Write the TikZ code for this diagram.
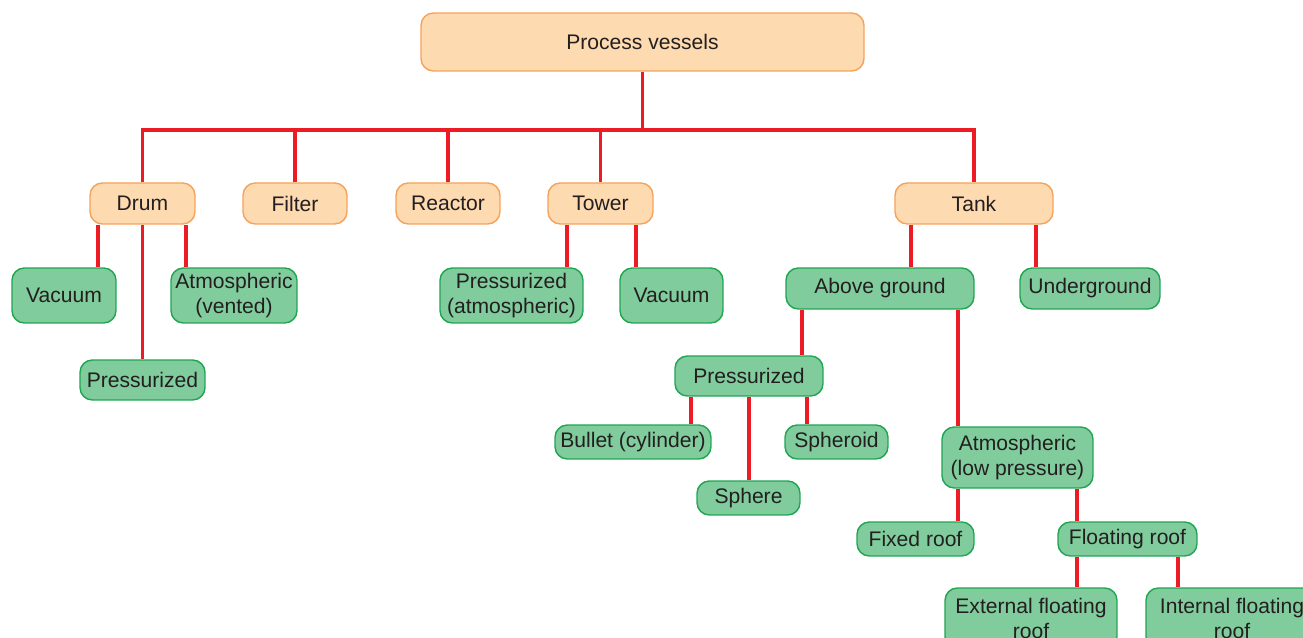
\documentclass[tikz,border=0pt]{standalone}
\usepackage{fontspec}
\setmainfont{Liberation Sans}

\definecolor{peach}{HTML}{FDDAB0}
\definecolor{peachline}{HTML}{F4A25A}
\definecolor{mint}{HTML}{80CC9C}
\definecolor{mintline}{HTML}{1EA552}
\definecolor{linkred}{HTML}{ED1C24}
\definecolor{ink}{HTML}{231F20}

\tikzset{
	vessel/.style={draw=peachline, fill=peach, rounded corners=7pt,
		line width=0.8pt, text=ink, inner sep=0pt, align=center,
		minimum height=0.82cm, font=\fontsize{12}{14}\selectfont},
	kind/.style={draw=mintline, fill=mint, rounded corners=7pt,
		line width=0.8pt, text=ink, inner sep=0pt, align=center,
		font=\fontsize{12}{14}\selectfont},
	link/.style={draw=linkred, line width=1.9pt}
}

\begin{document}
\begin{tikzpicture}[x=0.02cm, y=-0.02cm]
	\useasboundingbox (0,0) rectangle (1303,638);
	\clip (0,0) rectangle (1303,638);
	
	% top level
	\node [vessel, minimum width=8.86cm, minimum height=1.16cm] (pv) at (642.5,42) {Process vessels};
	\coordinate (bar) at (642.5,130);
	
	\node [vessel, minimum width=2.1cm] (drum) at (142.5,203.5) {Drum};
	\node [vessel, minimum width=2.08cm] (filter) at (295,203.5) {Filter};
	\node [vessel, minimum width=2.08cm] (reactor) at (448,203.5) {Reactor};
	\node [vessel, minimum width=2.1cm] (tower) at (600.5,203.5) {Tower};
	\node [vessel, minimum width=3.16cm] (tank) at (974,203.5) {Tank};
	
	% drum
	\node [kind, minimum width=2.08cm, minimum height=1.1cm] (dvac) at (64,295.5) {Vacuum};
	\node [kind, minimum width=2.52cm, minimum height=1.1cm] (datm) at (234,295.5) {Atmospheric\\(vented)};
	\node [kind, minimum width=2.5cm, minimum height=0.8cm] (dpre) at (142.5,380) {Pressurized};
	
	% tower
	\node [kind, minimum width=2.86cm, minimum height=1.1cm] (tpre) at (511.5,295.5) {Pressurized\\(atmospheric)};
	\node [kind, minimum width=2.06cm, minimum height=1.1cm] (tvac) at (671.5,295.5) {Vacuum};
	
	% tank
	\node [kind, minimum width=3.76cm, minimum height=0.82cm] (above) at (880,288.5) {Above ground};
	\node [kind, minimum width=2.8cm, minimum height=0.82cm] (under) at (1090,288.5) {Underground};
	\node [kind, minimum width=2.96cm, minimum height=0.8cm] (apre) at (749,376) {Pressurized};
	\node [kind, minimum width=3.02cm, minimum height=1.22cm] (aatm) at (1017.5,457.5) {Atmospheric\\(low pressure)};
	
	\node [kind, minimum width=3.12cm, minimum height=0.68cm] (bullet) at (633,442) {Bullet (cylinder)};
	\node [kind, minimum width=2.06cm, minimum height=0.68cm] (sphere) at (748.5,498) {Sphere};
	\node [kind, minimum width=2.06cm, minimum height=0.68cm] (spheroid) at (836.5,442) {Spheroid};
	
	\node [kind, minimum width=2.34cm, minimum height=0.68cm] (fixed) at (915.5,539) {Fixed roof};
	\node [kind, minimum width=2.78cm, minimum height=0.68cm] (floating) at (1127.5,539) {Floating roof};
	\node [kind, minimum width=3.44cm, minimum height=1.22cm] (ext) at (1031,618.5) {External floating\\roof};
	\node [kind, minimum width=3.44cm, minimum height=1.22cm] (int) at (1232,618.5) {Internal floating\\roof};
	
	% connectors
	\draw [link] (pv.south) -- (bar);
	\draw [link] (drum.north) |- (bar) -| (tank.north);
	\foreach \n in {filter,reactor,tower}
		\draw [link] (\n.north) -- (\n.north |- bar);
	
	\draw [link] (drum.south -| 98,0) -- (dvac.north -| 98,0);
	\draw [link] (drum.south) -- (dpre.north);
	\draw [link] (drum.south -| 186,0) -- (datm.north -| 186,0);
	
	\draw [link] (tower.south -| 567,0) -- (tpre.north -| 567,0);
	\draw [link] (tower.south -| 636,0) -- (tvac.north -| 636,0);
	
	\draw [link] (tank.south -| 911,0) -- (above.north -| 911,0);
	\draw [link] (tank.south -| 1036,0) -- (under.north -| 1036,0);
	
	\draw [link] (above.south -| 802,0) -- (apre.north -| 802,0);
	\draw [link] (above.south -| 958,0) -- (aatm.north -| 958,0);
	
	\draw [link] (apre.south -| 691,0) -- (bullet.north -| 691,0);
	\draw [link] (apre.south -| 749,0) -- (sphere.north -| 749,0);
	\draw [link] (apre.south -| 807,0) -- (spheroid.north -| 807,0);
	
	\draw [link] (aatm.south -| 958,0) -- (fixed.north -| 958,0);
	\draw [link] (aatm.south -| 1077,0) -- (floating.north -| 1077,0);
	
	\draw [link] (floating.south -| 1077,0) -- (ext.north -| 1077,0);
	\draw [link] (floating.south -| 1178,0) -- (int.north -| 1178,0);
\end{tikzpicture}
\end{document}
